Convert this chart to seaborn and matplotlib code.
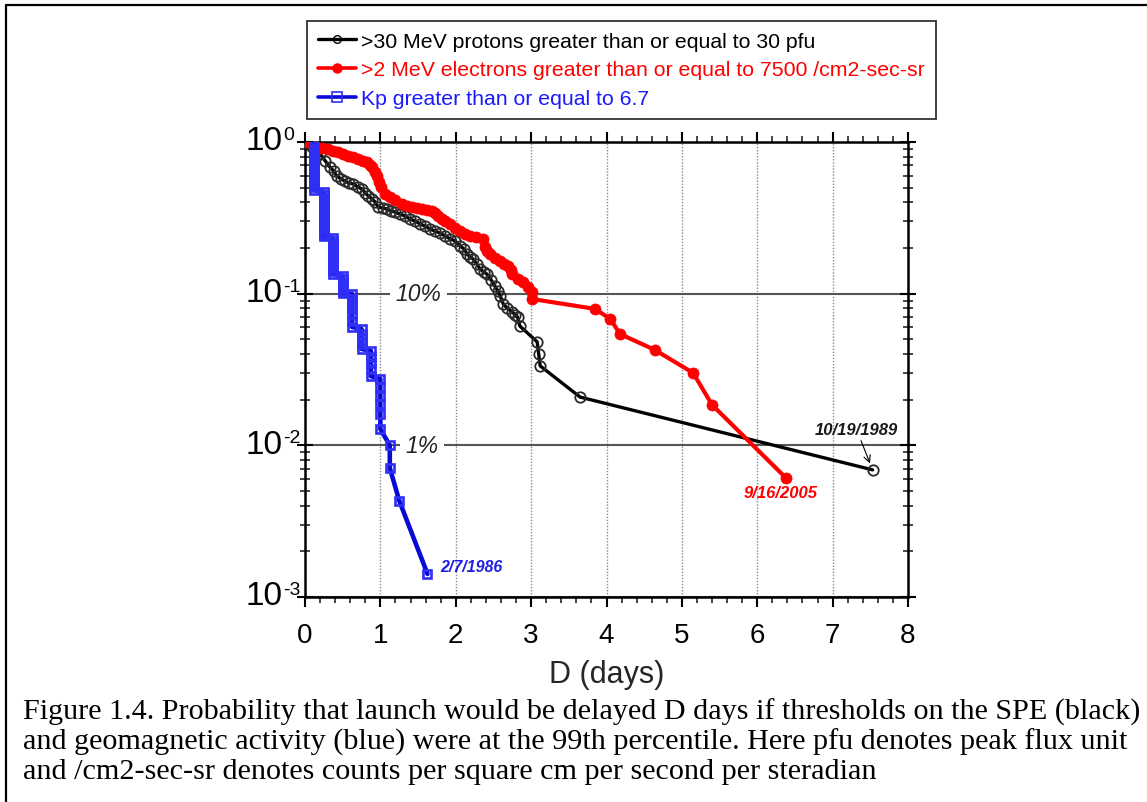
import matplotlib
matplotlib.use("Agg")
import matplotlib.pyplot as plt
from matplotlib.lines import Line2D
from matplotlib.transforms import offset_copy
from matplotlib.ticker import MultipleLocator, LogLocator, NullFormatter, FixedLocator
import seaborn as sns

# >30 MeV protons >= 30 pfu: delay D (days) vs. probability
proton_days = [0.03, 0.09, 0.15, 0.20, 0.27, 0.33, 0.38, 0.42, 0.48, 0.53, 0.58, 0.64,
               0.70, 0.76, 0.80, 0.84, 0.89, 0.93, 0.97, 1.03, 1.09, 1.14, 1.19, 1.26,
               1.33, 1.39, 1.46, 1.53, 1.59, 1.66, 1.72, 1.79, 1.86, 1.92, 1.99, 2.06,
               2.11, 2.15, 2.19, 2.23, 2.28, 2.32, 2.37, 2.41, 2.47, 2.52, 2.56, 2.59,
               2.63, 2.68, 2.75, 2.79, 2.82, 2.85, 3.08, 3.10, 3.12, 3.65, 7.53]
proton_prob = [1.0, 0.927, 0.873, 0.834, 0.749, 0.684, 0.644, 0.597, 0.570, 0.553, 0.537,
               0.529, 0.505, 0.490, 0.461, 0.441, 0.421, 0.402, 0.373, 0.367, 0.362, 0.351,
               0.346, 0.335, 0.325, 0.311, 0.301, 0.288, 0.279, 0.267, 0.259, 0.251, 0.240,
               0.230, 0.223, 0.206, 0.197, 0.183, 0.175, 0.169, 0.157, 0.146, 0.139, 0.135,
               0.123, 0.112, 0.104, 0.0966, 0.0855, 0.0805, 0.0757, 0.0724, 0.0702, 0.0612,
               0.0481, 0.0401, 0.0334, 0.0208, 0.00689]

# >2 MeV electrons >= 7500 /cm2-sec-sr
electron_days = [0.0, 0.13, 0.23, 0.31, 0.37, 0.44, 0.50, 0.57, 0.64, 0.70, 0.77, 0.82,
                 0.86, 0.89, 0.93, 0.95, 0.98, 1.01, 1.06, 1.13, 1.19, 1.29, 1.35, 1.42,
                 1.49, 1.55, 1.62, 1.68, 1.72, 1.76, 1.82, 1.86, 1.92, 1.99, 2.06, 2.12,
                 2.19, 2.27, 2.36, 2.39, 2.41, 2.45, 2.52, 2.59, 2.64, 2.69, 2.73, 2.75,
                 2.82, 2.89, 2.96, 3.01, 3.01, 3.85, 4.05, 4.18, 4.64, 5.15, 5.40, 6.38]
electron_prob = [1.0, 0.941, 0.913, 0.899, 0.873, 0.859, 0.834, 0.809, 0.796, 0.773, 0.749,
                 0.738, 0.705, 0.684, 0.634, 0.597, 0.545, 0.505, 0.454, 0.434, 0.415, 0.390,
                 0.379, 0.373, 0.367, 0.362, 0.356, 0.351, 0.340, 0.325, 0.311, 0.301, 0.288,
                 0.271, 0.259, 0.248, 0.240, 0.236, 0.230, 0.203, 0.191, 0.183, 0.172, 0.164,
                 0.157, 0.152, 0.143, 0.135, 0.125, 0.119, 0.111, 0.103, 0.0923, 0.0793,
                 0.0681, 0.0542, 0.0426, 0.030, 0.0185, 0.0061]

# Kp >= 6.7 (3-hour resolution, so delays come in steps of 1/8 day)
kp_days = ([0.125] * 17 + [0.25] * 16 + [0.375] * 13 + [0.5] * 7 + [0.625] * 7 +
           [0.75] * 5 + [0.875] * 5 + [1.0] * 6 + [1.125] * 2 + [1.25] + [1.625])
kp_prob = [1.0, 0.955, 0.913, 0.873, 0.834, 0.796, 0.761, 0.727, 0.694, 0.664, 0.634,
           0.606, 0.579, 0.553, 0.529, 0.505, 0.483,
           0.468, 0.447, 0.427, 0.408, 0.390, 0.373, 0.356, 0.340, 0.325, 0.311, 0.297,
           0.284, 0.271, 0.259, 0.248, 0.240,
           0.233, 0.223, 0.213, 0.203, 0.194, 0.186, 0.177, 0.169, 0.162, 0.155, 0.148,
           0.141, 0.135,
           0.131, 0.125, 0.119, 0.114, 0.109, 0.104, 0.101,
           0.0995, 0.0923, 0.0855, 0.0793, 0.0724, 0.066, 0.0603,
           0.0585, 0.0542, 0.0503, 0.0466, 0.0432,
           0.0419, 0.0383, 0.0349, 0.0319, 0.0286,
           0.0274, 0.0243, 0.0212, 0.0188, 0.0161, 0.0128,
           0.0100, 0.0071,
           0.00432,
           0.00142]

series_labels = [">30 MeV protons greater than or equal to 30 pfu",
                 ">2 MeV electrons greater than or equal to 7500 /cm2-sec-sr",
                 "Kp greater than or equal to 6.7"]
x_ticks = [0, 1, 2, 3, 4, 5, 6, 7, 8]
y_ticks = [1e-3, 1e-2, 1e-1, 1e0]
y_tick_exponents = ["-3", "-2", "-1", "0"]
caption_lines = [
    "Figure 1.4. Probability that launch would be delayed D days if thresholds on the SPE (black)",
    "and geomagnetic activity (blue) were at the 99th percentile. Here pfu denotes peak flux unit",
    "and /cm2-sec-sr denotes counts per square cm per second per steradian",
]

sns.set_theme(style="white")
plt.rcParams["font.family"] = ["Liberation Sans", "DejaVu Sans"]
plt.rcParams["axes.unicode_minus"] = False

W, H = 1147, 803
fig = plt.figure(figsize=(W / 100, H / 100), dpi=100)
fig.patch.set_facecolor("white")
ax = fig.add_axes([305 / W, (H - 598) / H, 603 / W, 455 / H])

BLACK = "#000000"
RED = "#ff0000"
BLUE = "#0a0ad8"
BLUE_EDGE = "#2f2ff5"

sns.lineplot(x=proton_days, y=proton_prob, ax=ax, sort=False, estimator=None,
             color=BLACK, lw=2.4, marker="o", markersize=7.5,
             markerfacecolor="none", markeredgecolor="#2a2a2a", markeredgewidth=1.3,
             label=series_labels[0], zorder=3)
sns.lineplot(x=electron_days, y=electron_prob, ax=ax, sort=False, estimator=None,
             color=RED, lw=3.0, marker="o", markersize=8,
             markerfacecolor=RED, markeredgecolor=RED, markeredgewidth=0.5,
             label=series_labels[1], zorder=4)
sns.lineplot(x=kp_days, y=kp_prob, ax=ax, sort=False, estimator=None,
             color=BLUE, lw=3.3, marker="s", markersize=6,
             markerfacecolor="none", markeredgecolor=BLUE_EDGE, markeredgewidth=1.9,
             label=series_labels[2], zorder=5)

ax.set_yscale("log")
ax.set_xlim(0, 8)
ax.set_ylim(1e-3, 1)

ax.xaxis.set_major_locator(FixedLocator(x_ticks))
ax.set_xticklabels([str(t) for t in x_ticks])
ax.xaxis.set_minor_locator(MultipleLocator(0.2))
ax.yaxis.set_major_locator(FixedLocator(y_ticks))
ax.yaxis.set_minor_locator(LogLocator(base=10, subs=range(2, 10)))
ax.yaxis.set_minor_formatter(NullFormatter())

ax.tick_params(axis="x", which="major", direction="out", length=7, width=1.5,
               top=True, bottom=True, labelsize=20, pad=11, colors="black")
ax.tick_params(axis="x", which="minor", direction="out", length=4, width=1.2,
               top=True, bottom=True)
ax.tick_params(axis="y", which="major", direction="inout", length=12, width=1.5,
               left=True, right=True, labelleft=False, colors="black")
ax.tick_params(axis="y", which="minor", direction="inout", length=7, width=1.2,
               left=True, right=True)

# decade labels written as "10" with a raised exponent
ytrans = ax.get_yaxis_transform()
base_tr = offset_copy(ytrans, fig=fig, x=-23, y=1, units="dots")
sup_tr = offset_copy(ytrans, fig=fig, x=-22, y=3, units="dots")
for yv, ex in zip(y_ticks, y_tick_exponents):
    ax.text(0, yv, "10", transform=base_tr, ha="right", va="center",
            fontsize=24, color="black", clip_on=False)
    ax.text(0, yv, ex, transform=sup_tr, ha="left", va="baseline",
            fontsize=14, color="black", clip_on=False)

for s in ax.spines.values():
    s.set_visible(True)
    s.set_color("black")
    s.set_linewidth(1.8)

ax.xaxis.grid(True, which="major", color="#8a8a8a", lw=1.0, ls=(0, (1, 1.2)))
ax.yaxis.grid(True, which="major", color="#555555", lw=1.5, ls="-")
ax.set_axisbelow(True)

ax.set_xlabel("D (days)", fontsize=22, labelpad=8)
ax.set_ylabel("")

for xv, yv, txt in [(1.51, 0.1, "10%"), (1.55, 0.01, "1%")]:
    ax.text(xv, yv, txt, fontsize=16.5, fontstyle="italic", color="#222222",
            ha="center", va="center", zorder=2,
            bbox=dict(facecolor="white", edgecolor="none", pad=4))

ax.text(1.80, 0.00158, "2/7/1986", color="#2020e0", fontsize=11.5,
        fontweight="bold", fontstyle="italic", ha="left", va="center")
ax.text(6.31, 0.00485, "9/16/2005", color=RED, fontsize=12,
        fontweight="bold", fontstyle="italic", ha="center", va="center")
ax.annotate("10/19/1989", xy=(7.53, 0.0069), xytext=(7.32, 0.01264),
            ha="center", va="center", fontsize=12, fontweight="bold",
            fontstyle="italic", color="#1a1a1a",
            arrowprops=dict(arrowstyle="->", color="black", lw=0.8,
                            shrinkA=0, shrinkB=5))

leg = ax.legend(handles=[Line2D([], [], color=BLACK, lw=2.4, marker="o", markersize=5.5,
                                markerfacecolor="none", markeredgecolor=BLACK),
                         Line2D([], [], color=RED, lw=2.6, marker="o", markersize=6.5,
                                markerfacecolor=RED, markeredgecolor=RED),
                         Line2D([], [], color=BLUE, lw=2.6, marker="s", markersize=6.5,
                                markerfacecolor="none", markeredgecolor=BLUE_EDGE,
                                markeredgewidth=1.2)],
                labels=series_labels, loc="upper left",
                bbox_to_anchor=(307 / W, 1 - 22 / H), bbox_transform=fig.transFigure,
                fontsize=15.3, labelcolor=[BLACK, RED, "#1a1aff"], frameon=True,
                fancybox=False, framealpha=1, edgecolor="#333333",
                handlelength=1.8, handletextpad=0.25, borderpad=0.5,
                labelspacing=0.46, borderaxespad=0)
leg.get_frame().set_linewidth(1.3)

for i, line in enumerate(caption_lines):
    fig.text(23 / W, 1 - (712 + 30 * i) / H, line, family="Liberation Serif",
             fontsize=21.7, ha="left", va="center", color="black")

fig.add_artist(Line2D([6 / W, 6 / W], [0, 1 - 6 / H], transform=fig.transFigure,
                      color="black", lw=1.6))
fig.add_artist(Line2D([6 / W, 1], [1 - 6 / H, 1 - 6 / H], transform=fig.transFigure,
                      color="black", lw=1.6))

fig.savefig("out.png", dpi=100, facecolor="white")
